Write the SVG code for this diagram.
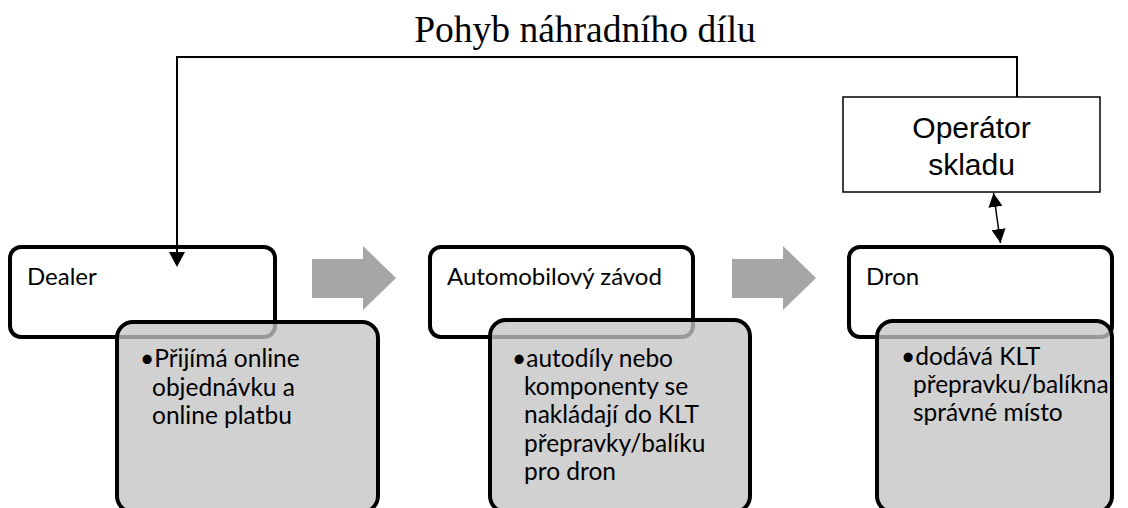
<svg xmlns="http://www.w3.org/2000/svg" width="1128" height="508" viewBox="0 0 1128 508">
<style>
.hdr{fill:#fff;stroke:#000;stroke-width:4}
.det{fill:#c4c4c4;fill-opacity:0.78;stroke:#000;stroke-width:4}
.ht{font-family:Lato,"Open Sans",sans-serif;font-size:24px;fill:#000}
.bt{font-family:Lato,"Open Sans",sans-serif;font-size:24.5px;fill:#000}
.big{fill:#a6a6a6}
.conn{fill:none;stroke:#000;stroke-width:2}
</style>
<defs>
<marker id="ah2" viewBox="0 0 10 10" refX="10" refY="5" markerWidth="14" markerHeight="14" markerUnits="userSpaceOnUse" orient="auto-start-reverse">
<path d="M0,0 L10,5 L0,10 z" fill="#000"/>
</marker>
</defs>
<text x="585" y="42" text-anchor="middle" font-family="'Liberation Serif',serif" font-size="37.5">Pohyb náhradního dílu</text>
<g id="arrows">
<polygon class="big" points="312,259 363,259 363,246 396,278 363,310 363,298 312,298"/>
<polygon class="big" points="732,259 783,259 783,246 816,278 783,310 783,298 732,298"/>
</g>
<g id="dealer">
<rect class="hdr" x="10" y="247" width="265" height="90" rx="11"/>
<text class="ht" x="27" y="285">Dealer</text>
<rect class="det" x="117" y="322" width="261" height="190" rx="16"/>
<text class="bt"><tspan x="140" y="367">•Přijímá online</tspan><tspan x="152" y="396">objednávku a</tspan><tspan x="152" y="424">online platbu</tspan></text>
</g>
<g id="zavod">
<rect class="hdr" x="430" y="247" width="263" height="90" rx="11"/>
<text class="ht" x="447" y="285">Automobilový závod</text>
<rect class="det" x="490" y="320" width="260" height="192" rx="16"/>
<text class="bt"><tspan x="512" y="367">•autodíly nebo</tspan><tspan x="524" y="395">komponenty se</tspan><tspan x="524" y="423">nakládají do KLT</tspan><tspan x="524" y="452">přepravky/balíku</tspan><tspan x="524" y="480">pro dron</tspan></text>
</g>
<g id="dron">
<rect class="hdr" x="849" y="247" width="263" height="90" rx="11"/>
<text class="ht" x="866" y="285">Dron</text>
<rect class="det" x="877" y="321" width="235" height="191" rx="16"/>
<text class="bt"><tspan x="901" y="365">•dodává KLT</tspan><tspan x="913" y="393">přepravku/balíkna</tspan><tspan x="913" y="421">správné místo</tspan></text>
</g>
<g id="operator">
<rect x="843" y="97" width="257" height="95" fill="#fff" stroke="#000" stroke-width="1.5"/>
<text x="971.5" y="138" text-anchor="middle" font-family="'Liberation Sans',Arial,sans-serif" font-size="30">Operátor</text>
<text x="971.5" y="175" text-anchor="middle" font-family="'Liberation Sans',Arial,sans-serif" font-size="30">skladu</text>
</g>
<g id="connectors">
<polyline class="conn" points="1017,97 1017,57 177,57 177,252"/>
<polygon points="169,252 185,252 177,267" fill="#000"/>
<line x1="993.5" y1="193" x2="1000.5" y2="243" stroke="#000" stroke-width="1.5" marker-start="url(#ah2)" marker-end="url(#ah2)"/>
</g>
</svg>
